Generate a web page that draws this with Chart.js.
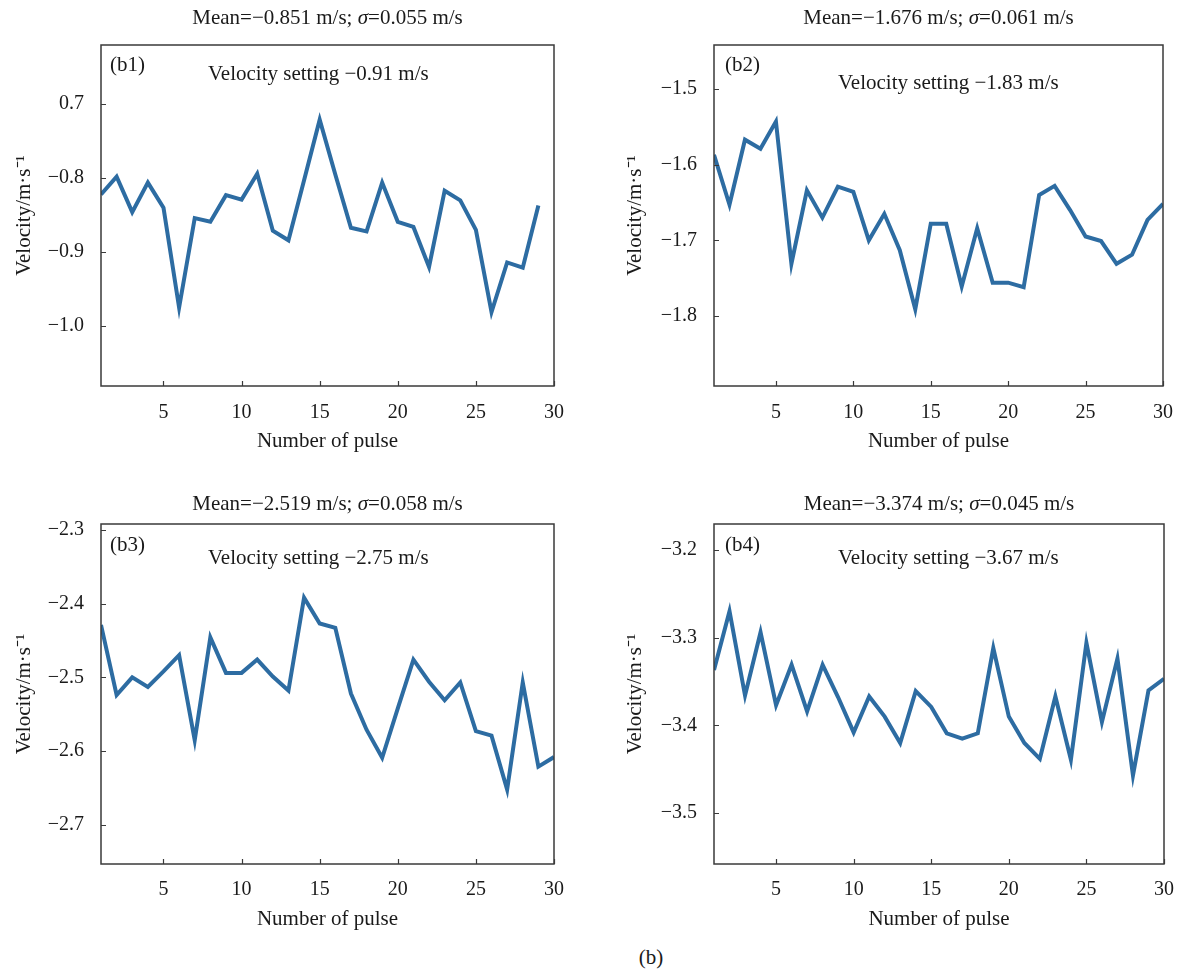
<!DOCTYPE html>
<html>
<head>
<meta charset="utf-8">
<script src="https://cdn.jsdelivr.net/npm/chart.js@4/dist/chart.umd.min.js"></script>
<style>
  html, body { margin: 0; padding: 0; background: #ffffff; overflow: hidden; }
  #wrap { position: relative; width: 1188px; height: 970px; background: #ffffff; }
  #wrap canvas { position: absolute; }
  #cap { position: absolute; left: 551px; top: 945px; width: 200px; line-height: 24px;
         text-align: center; font: 21px "Liberation Serif", "Times New Roman", serif; color: #1a1a1a; }
</style>
</head>
<body>
<div id="wrap">
  <canvas id="c1"></canvas>
  <canvas id="c2"></canvas>
  <canvas id="c3"></canvas>
  <canvas id="c4"></canvas>
  <div id="cap">(b)</div>
</div>
<script>
// ---------------- data ----------------
const pulses = [1,2,3,4,5,6,7,8,9,10,11,12,13,14,15,16,17,18,19,20,21,22,23,24,25,26,27,28,29,30];

const b1Velocity = [-0.822,-0.798,-0.846,-0.806,-0.840,-0.975,-0.854,-0.859,-0.823,-0.829,
                    -0.794,-0.871,-0.884,-0.803,-0.721,-0.795,-0.867,-0.872,-0.806,-0.859,
                    -0.866,-0.920,-0.817,-0.830,-0.870,-0.981,-0.914,-0.921,-0.837];
const b2Velocity = [-1.587,-1.653,-1.567,-1.579,-1.543,-1.731,-1.634,-1.670,-1.629,-1.636,
                    -1.700,-1.665,-1.713,-1.791,-1.678,-1.678,-1.761,-1.684,-1.756,-1.756,
                    -1.762,-1.640,-1.628,-1.660,-1.695,-1.701,-1.731,-1.719,-1.673,-1.652];
const b3Velocity = [-2.429,-2.524,-2.500,-2.513,-2.492,-2.470,-2.585,-2.446,-2.494,-2.494,
                    -2.476,-2.499,-2.518,-2.392,-2.427,-2.433,-2.522,-2.571,-2.609,-2.542,
                    -2.476,-2.506,-2.531,-2.507,-2.573,-2.579,-2.652,-2.507,-2.621,-2.608];
const b4Velocity = [-3.337,-3.270,-3.366,-3.294,-3.377,-3.331,-3.384,-3.331,-3.368,-3.408,
                    -3.367,-3.390,-3.420,-3.361,-3.379,-3.409,-3.415,-3.409,-3.312,-3.390,
                    -3.420,-3.438,-3.367,-3.439,-3.306,-3.396,-3.324,-3.457,-3.360,-3.347];

const xTickValues = [5, 10, 15, 20, 25, 30];
const xTickLabels = ['5', '10', '15', '20', '25', '30'];

const b1TickValues = [-0.7, -0.8, -0.9, -1.0];
const b1TickLabels = ['0.7', '\u22120.8', '\u22120.9', '\u22121.0'];
const b2TickValues = [-1.5, -1.6, -1.7, -1.8];
const b2TickLabels = ['\u22121.5', '\u22121.6', '\u22121.7', '\u22121.8'];
const b3TickValues = [-2.3, -2.4, -2.5, -2.6, -2.7];
const b3TickLabels = ['\u22122.3', '\u22122.4', '\u22122.5', '\u22122.6', '\u22122.7'];
const b4TickValues = [-3.2, -3.3, -3.4, -3.5];
const b4TickLabels = ['\u22123.2', '\u22123.3', '\u22123.4', '\u22123.5'];

const panelTags = ['(b1)', '(b2)', '(b3)', '(b4)'];
const meanValues = ['\u22120.851', '\u22121.676', '\u22122.519', '\u22123.374'];
const sigmaValues = ['0.055', '0.061', '0.058', '0.045'];
const settingValues = ['\u22120.91', '\u22121.83', '\u22122.75', '\u22123.67'];

const yAxisTitle = 'Velocity/m\u00b7s\u207b\u00b9';
const xAxisTitle = 'Number of pulse';

// ---------------- layout / style ----------------
const SERIF = '"Liberation Serif", "Times New Roman", serif';
const TEXT = '#1a1a1a';
const LINE = '#2d6ca2';

const panels = [
  { id: 'c1', left: 0,   top: 0,   w: 594, h: 460, padR: 40, yMin: -1.081, yMax: -0.620,
    vals: b1Velocity, tv: b1TickValues, tl: b1TickLabels,
    titleDy: -27, tagDx: 9, tagDy: 26, setDx: 107, setDy: 35, yTitlePad: 12, xPad: 15 },
  { id: 'c2', left: 613, top: 0,   w: 575, h: 460, padR: 21, yMin: -1.8925, yMax: -1.4419,
    vals: b2Velocity, tv: b2TickValues, tl: b2TickLabels,
    titleDy: -27, tagDx: 11, tagDy: 26, setDx: 124, setDy: 44, yTitlePad: 10, xPad: 15 },
  { id: 'c3', left: 0,   top: 479, w: 594, h: 459, padR: 40, yMin: -2.7529, yMax: -2.2923,
    vals: b3Velocity, tv: b3TickValues, tl: b3TickLabels,
    titleDy: -20, tagDx: 9, tagDy: 27, setDx: 107, setDy: 40, yTitlePad: 12, xPad: 14 },
  { id: 'c4', left: 613, top: 479, w: 575, h: 459, padR: 21, yMin: -3.5578, yMax: -3.1707,
    vals: b4Velocity, tv: b4TickValues, tl: b4TickLabels,
    titleDy: -20, tagDx: 11, tagDy: 27, setDx: 124, setDy: 40, yTitlePad: 10, xPad: 14 }
];

const decoPlugin = {
  id: 'deco',
  afterDraw(chart, args, o) {
    const ctx = chart.ctx, a = chart.chartArea;
    const xs = chart.scales.x, ys = chart.scales.y;
    ctx.save();
    // frame
    ctx.strokeStyle = '#3a3a3a';
    ctx.lineWidth = 1.5;
    ctx.strokeRect(a.left, a.top, a.right - a.left, a.bottom - a.top);
    // inward tick marks
    ctx.beginPath();
    xs.ticks.forEach(t => {
      const px = Math.round(xs.getPixelForValue(t.value)) + 0.5;
      ctx.moveTo(px, a.bottom); ctx.lineTo(px, a.bottom - 5);
    });
    ys.ticks.forEach(t => {
      const py = Math.round(ys.getPixelForValue(t.value)) + 0.5;
      ctx.moveTo(a.left, py); ctx.lineTo(a.left + 5, py);
    });
    ctx.lineWidth = 1.2;
    ctx.stroke();

    ctx.fillStyle = TEXT;
    // title above plot: Mean=...; σ=...
    const parts = [
      { t: 'Mean=' + o.mean + ' m/s; ', f: '21px ' + SERIF },
      { t: '\u03c3', f: 'italic 21px ' + SERIF },
      { t: '=' + o.sigma + ' m/s', f: '21px ' + SERIF }
    ];
    let total = 0;
    parts.forEach(p => { ctx.font = p.f; p.w = ctx.measureText(p.t).width; total += p.w; });
    let x = (a.left + a.right) / 2 - total / 2;
    const ty = a.top + o.titleDy;
    ctx.textBaseline = 'middle';
    ctx.textAlign = 'left';
    parts.forEach(p => { ctx.font = p.f; ctx.fillText(p.t, x, ty); x += p.w; });

    // panel tag and setting text inside plot
    ctx.textBaseline = 'alphabetic';
    ctx.font = '21px ' + SERIF;
    ctx.fillText(o.tag, a.left + o.tagDx, a.top + o.tagDy);
    ctx.fillText('Velocity setting ' + o.setting + ' m/s', a.left + o.setDx, a.top + o.setDy);
    ctx.restore();
  }
};

panels.forEach((p, i) => {
  const cv = document.getElementById(p.id);
  cv.width = p.w; cv.height = p.h;
  cv.style.left = p.left + 'px'; cv.style.top = p.top + 'px';
  cv.style.width = p.w + 'px'; cv.style.height = p.h + 'px';

  const points = p.vals.map((v, k) => ({ x: pulses[k], y: v }));

  new Chart(cv, {
    type: 'line',
    data: {
      datasets: [{
        data: points,
        borderColor: LINE,
        borderWidth: 4,
        pointRadius: 0,
        tension: 0,
        fill: false
      }]
    },
    options: {
      responsive: false,
      animation: false,
      devicePixelRatio: 1,
      layout: { padding: { top: 45, right: p.padR, left: 0, bottom: 0 } },
      plugins: {
        legend: { display: false },
        tooltip: { enabled: false },
        deco: {
          mean: meanValues[i], sigma: sigmaValues[i], tag: panelTags[i], setting: settingValues[i],
          titleDy: p.titleDy, tagDx: p.tagDx, tagDy: p.tagDy, setDx: p.setDx, setDy: p.setDy
        }
      },
      scales: {
        x: {
          type: 'linear',
          min: 1, max: 30,
          grid: { display: false, drawTicks: false },
          border: { display: false },
          afterBuildTicks: s => { s.ticks = xTickValues.map(v => ({ value: v })); },
          afterFit: s => { s.height = 74; },
          ticks: {
            padding: p.xPad,
            color: TEXT,
            font: { family: SERIF, size: 20 },
            maxRotation: 0,
            autoSkip: false,
            callback: (v, idx) => xTickLabels[idx]
          },
          title: {
            display: true, text: xAxisTitle, color: TEXT,
            font: { family: SERIF, size: 21 },
            padding: { top: 0, bottom: 6 }
          }
        },
        y: {
          type: 'linear',
          min: p.yMin, max: p.yMax,
          grid: { display: false, drawTicks: false },
          border: { display: false },
          afterBuildTicks: s => { s.ticks = p.tv.map(v => ({ value: v })); },
          afterFit: s => { s.width = 101; },
          ticks: {
            padding: 17,
            color: TEXT,
            font: { family: SERIF, size: 20 },
            autoSkip: false,
            callback: (v, idx) => p.tl[idx]
          },
          title: {
            display: true, text: yAxisTitle, color: TEXT,
            font: { family: SERIF, size: 21 },
            padding: { top: p.yTitlePad, bottom: 0 }
          }
        }
      }
    },
    plugins: [decoPlugin]
  });
});
</script>
</body>
</html>
